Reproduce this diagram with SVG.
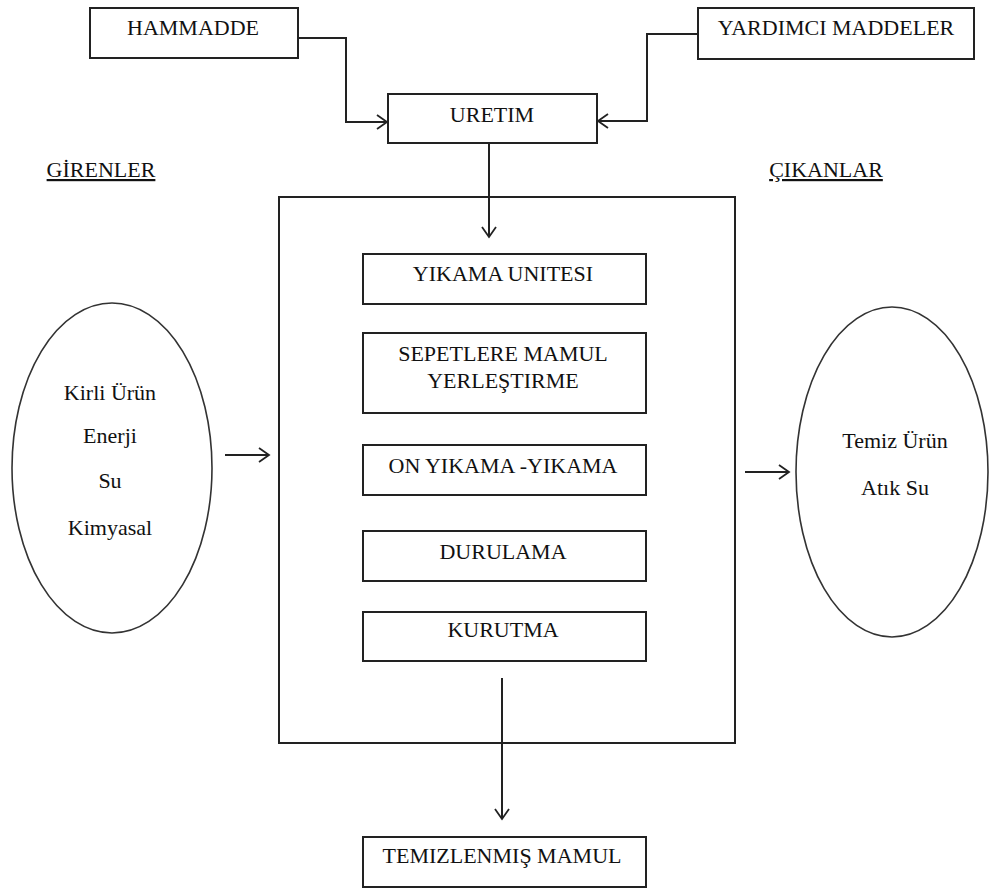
<svg xmlns="http://www.w3.org/2000/svg" width="993" height="889" viewBox="0 0 993 889">
  <style>
    .box { fill: #fff; stroke: #222; stroke-width: 2; }
    .oval { fill: #fff; stroke: #333; stroke-width: 1.6; }
    .lbl { font-family: 'Liberation Serif', 'Times New Roman', serif; font-size: 22px; fill: #111; text-anchor: middle; }
    .head { text-decoration: underline; }
    .wire { fill: none; stroke: #222; stroke-width: 2; }
  </style>
  <defs>
    <marker id="open" markerUnits="userSpaceOnUse" markerWidth="14" markerHeight="18" refX="11" refY="8" orient="auto">
      <path d="M1,1 L11,8 L1,15" fill="none" stroke="#222" stroke-width="1.8"/>
    </marker>
  </defs>
  <rect width="993" height="889" fill="#fff"/>

  <!-- inputs on top -->
  <g id="hammadde">
    <rect class="box" x="90" y="8" width="208" height="50"/>
    <text class="lbl" x="193" y="35">HAMMADDE</text>
  </g>
  <g id="yardimci">
    <rect class="box" x="698" y="8" width="276" height="51"/>
    <text class="lbl" x="836" y="35">YARDIMCI MADDELER</text>
  </g>
  <g id="uretim">
    <rect class="box" x="388" y="94" width="209" height="49"/>
    <text class="lbl" x="492" y="122">URETIM</text>
  </g>

  <!-- section headings -->
  <text class="lbl head" x="101" y="177">GİRENLER</text>
  <text class="lbl head" x="826" y="177">ÇIKANLAR</text>

  <!-- process frame -->
  <g id="process">
    <rect class="box" x="279" y="197" width="456" height="546"/>
  </g>
  <g id="yikama-unitesi">
    <rect class="box" x="363" y="254" width="283" height="50"/>
    <text class="lbl" x="503" y="281">YIKAMA UNITESI</text>
  </g>
  <g id="sepetlere">
    <rect class="box" x="363" y="333" width="283" height="80"/>
    <text class="lbl" x="503" y="361">SEPETLERE MAMUL</text>
    <text class="lbl" x="503" y="388">YERLEŞTIRME</text>
  </g>
  <g id="on-yikama">
    <rect class="box" x="363" y="445" width="283" height="50"/>
    <text class="lbl" x="503" y="473">ON YIKAMA -YIKAMA</text>
  </g>
  <g id="durulama">
    <rect class="box" x="363" y="531" width="283" height="50"/>
    <text class="lbl" x="503" y="559">DURULAMA</text>
  </g>
  <g id="kurutma">
    <rect class="box" x="363" y="612" width="283" height="49"/>
    <text class="lbl" x="503" y="637">KURUTMA</text>
  </g>

  <!-- output product -->
  <g id="temizlenmis">
    <rect class="box" x="363" y="837" width="283" height="50"/>
    <text class="lbl" x="502" y="863">TEMIZLENMIŞ MAMUL</text>
  </g>

  <!-- inputs / outputs ovals -->
  <g id="girenler">
    <ellipse class="oval" cx="112" cy="468" rx="100" ry="165"/>
    <text class="lbl" x="110" y="400">Kirli Ürün</text>
    <text class="lbl" x="110" y="443">Enerji</text>
    <text class="lbl" x="110" y="488">Su</text>
    <text class="lbl" x="110" y="535">Kimyasal</text>
  </g>
  <g id="cikanlar">
    <ellipse class="oval" cx="892" cy="472" rx="96" ry="165"/>
    <text class="lbl" x="895" y="448">Temiz Ürün</text>
    <text class="lbl" x="895" y="495">Atık Su</text>
  </g>

  <!-- connectors -->
  <g id="connectors">
    <path class="wire" d="M298,38 H346 V122 H387" marker-end="url(#open)"/>
    <path class="wire" d="M698,34 H647 V121 H598" marker-end="url(#open)"/>
    <path class="wire" d="M489,143 V237" marker-end="url(#open)"/>
    <path class="wire" d="M225,455 H269" marker-end="url(#open)"/>
    <path class="wire" d="M745,472 H789" marker-end="url(#open)"/>
    <path class="wire" d="M502,678 V819" marker-end="url(#open)"/>
  </g>
</svg>
